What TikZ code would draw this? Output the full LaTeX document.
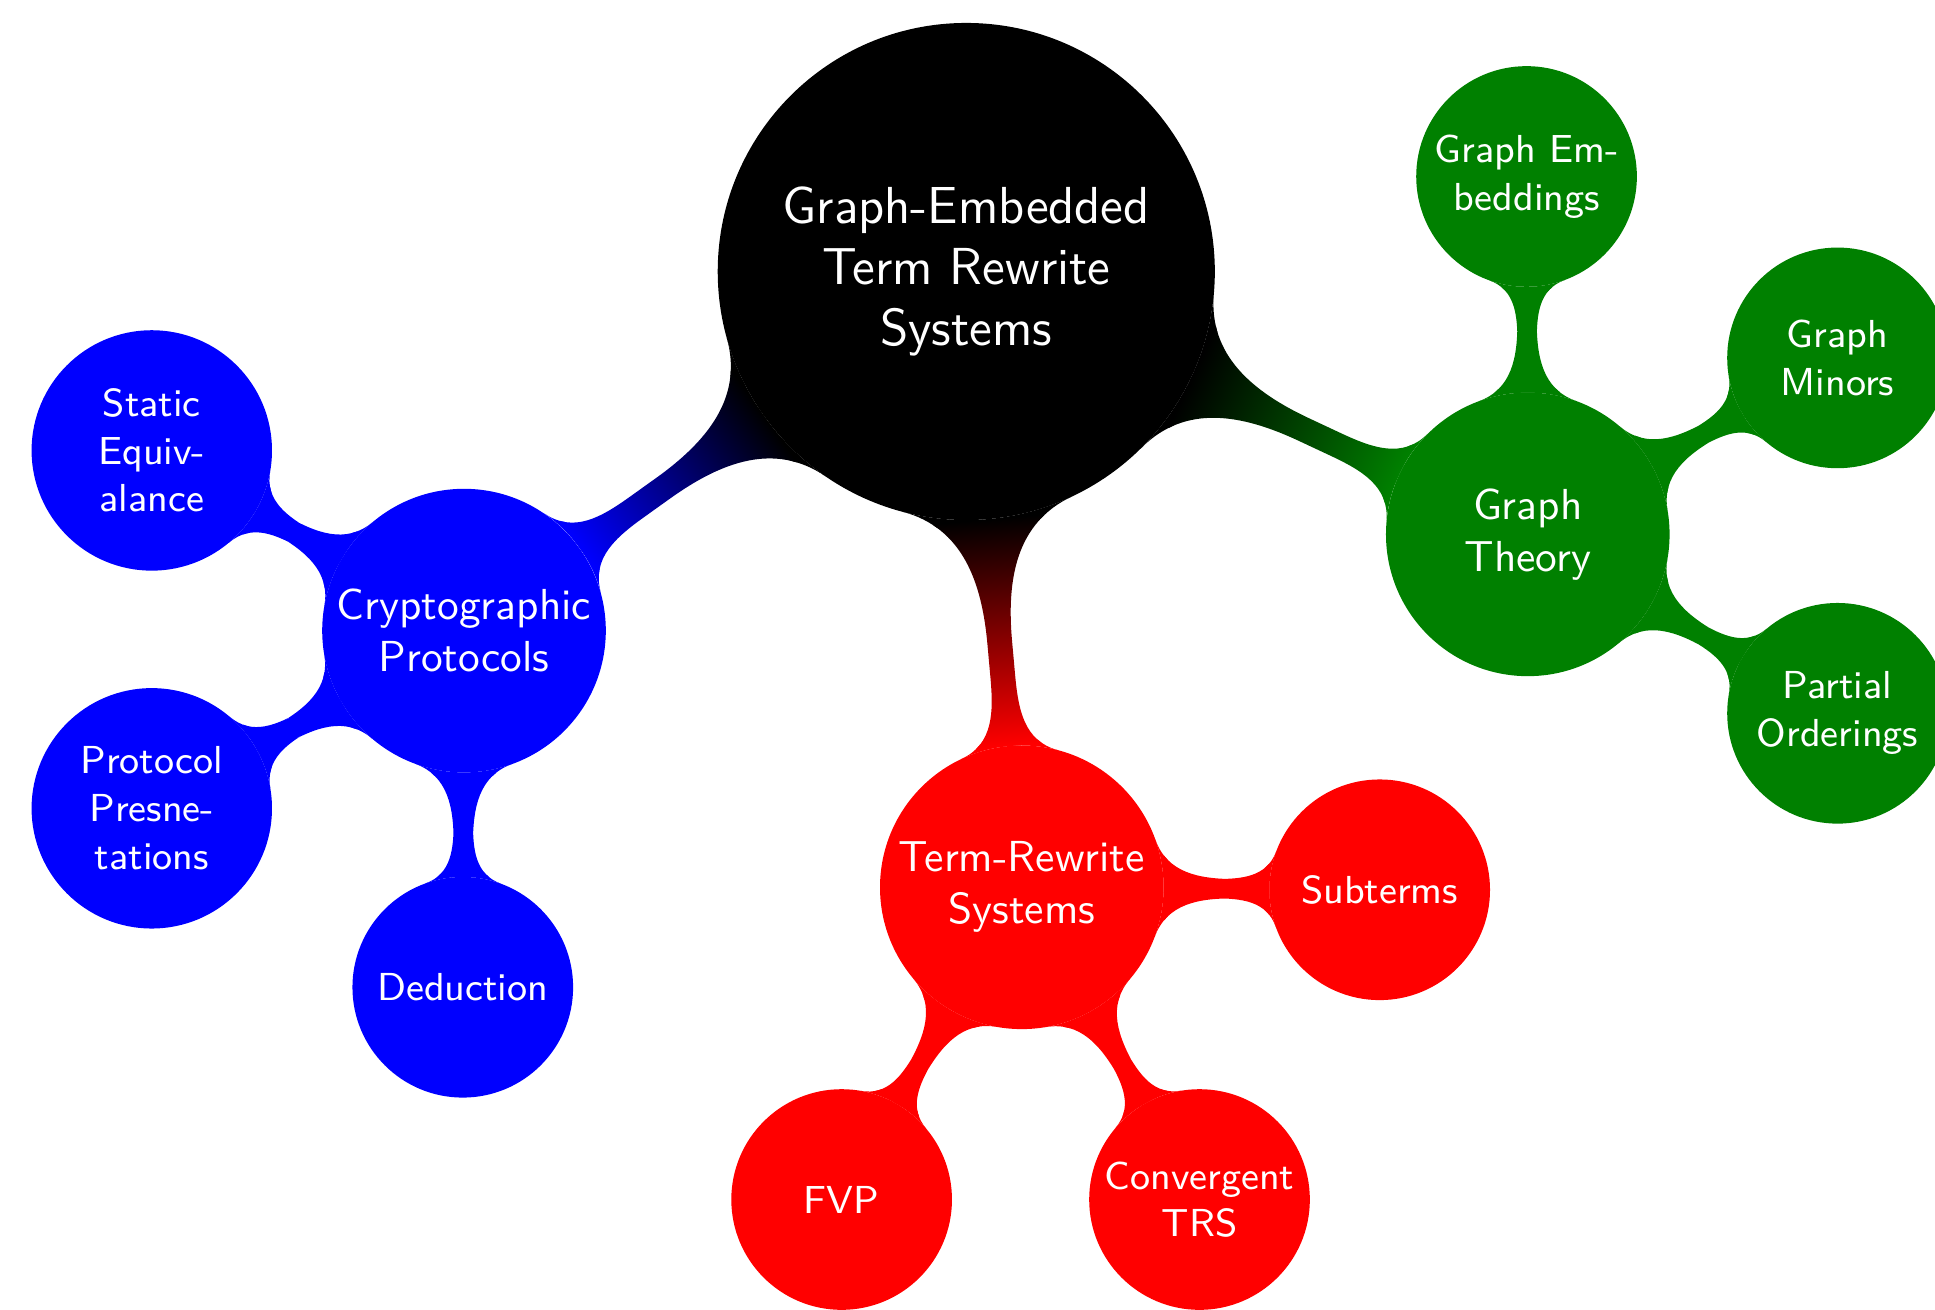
\documentclass[tikz,border=0pt]{standalone}
\usetikzlibrary{mindmap,backgrounds}
\definecolor{cgreen}{RGB}{0,128,0}
\definecolor{cblue}{RGB}{0,0,255}
\definecolor{cred}{RGB}{255,0,0}
\begin{document}
\begin{tikzpicture}[
  bub/.style={circle, inner sep=0pt, align=center, text=white, fill=#1, draw=#1, line width=0.8pt},
  rootc/.style={bub=black, minimum size=4cm, font=\sffamily\large},
  lone/.style={bub=#1, minimum size=2.27cm, font=\sffamily},
  ltwo/.style={bub=#1, minimum size=1.76cm, font=\sffamily\small},
  bar/.style={circle connection bar switch color=#1},
]
\useasboundingbox (0,0) rectangle (15.68,10.61);
% root
\node[rootc] (root) at (7.83,8.41) {Graph-Embedded\\Term Rewrite\\Systems};
% blue branch
\node[lone=cblue] (crypto) at (3.76,5.50) {Cryptographic\\Protocols};
\node[ltwo=cblue, minimum size=1.92cm] (static) at (1.23,6.96) {Static\\Equiv-\\alance};
\node[ltwo=cblue, minimum size=1.92cm] (protpres) at (1.23,4.06) {Protocol\\Presne-\\tations};
\node[ltwo=cblue] (deduct) at (3.75,2.61) {Deduction};
% green branch
\node[lone=cgreen] (graphth) at (12.38,6.28) {Graph\\Theory};
\node[ltwo=cgreen] (graphemb) at (12.37,9.18) {Graph Em-\\beddings};
\node[ltwo=cgreen] (minors) at (14.89,7.71) {Graph\\Minors};
\node[ltwo=cgreen] (partial) at (14.89,4.83) {Partial\\Orderings};
% red branch
\node[lone=cred] (trs) at (8.28,3.42) {Term-Rewrite\\Systems};
\node[ltwo=cred] (subterms) at (11.18,3.40) {Subterms};
\node[ltwo=cred] (fvp) at (6.82,0.89) {FVP};
\node[ltwo=cred] (conv) at (9.72,0.89) {Convergent\\TRS};
% connections
\begin{pgfonlayer}{background}
\path (root) to[bar={from (black) to (cblue)}] (crypto);
\path (root) to[bar={from (black) to (cgreen)}] (graphth);
\path (root) to[bar={from (black) to (cred)}] (trs);
\path (crypto) to[bar={from (cblue) to (cblue)}] (static);
\path (crypto) to[bar={from (cblue) to (cblue)}] (protpres);
\path (crypto) to[bar={from (cblue) to (cblue)}] (deduct);
\path (graphth) to[bar={from (cgreen) to (cgreen)}] (graphemb);
\path (graphth) to[bar={from (cgreen) to (cgreen)}] (minors);
\path (graphth) to[bar={from (cgreen) to (cgreen)}] (partial);
\path (trs) to[bar={from (cred) to (cred)}] (subterms);
\path (trs) to[bar={from (cred) to (cred)}] (fvp);
\path (trs) to[bar={from (cred) to (cred)}] (conv);
\end{pgfonlayer}
\end{tikzpicture}
\end{document}
